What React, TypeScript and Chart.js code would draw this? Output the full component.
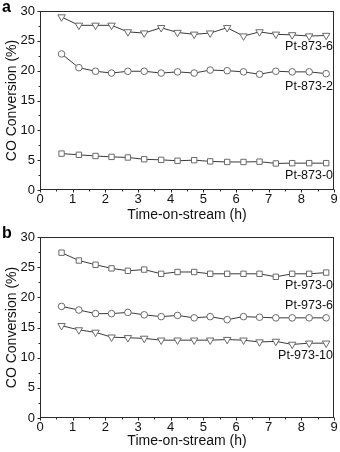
import React, { useEffect, useRef } from "react";
import { Chart, registerables } from "chart.js";

Chart.register(...registerables);

// Time-on-stream (h)
const timeA = [0.66, 1.19, 1.7, 2.19, 2.69, 3.19, 3.71, 4.21, 4.72, 5.21, 5.73, 6.23, 6.72, 7.22, 7.72, 8.24, 8.76];
const timeB = [0.66, 1.19, 1.7, 2.19, 2.69, 3.19, 3.71, 4.21, 4.72, 5.21, 5.73, 6.23, 6.72, 7.22, 7.72, 8.24, 8.76];

// Panel a
const pt873_6 = [29.0, 27.6, 27.6, 27.6, 26.5, 26.3, 27.2, 26.4, 26.1, 26.3, 27.2, 25.8, 26.5, 26.1, 26.0, 25.8, 25.9];
const pt873_2 = [22.8, 20.5, 19.9, 19.6, 19.9, 19.9, 19.6, 19.8, 19.6, 20.1, 20.0, 19.8, 19.4, 19.9, 19.8, 19.8, 19.5];
const pt873_0 = [6.1, 5.9, 5.7, 5.55, 5.45, 5.15, 5.05, 4.9, 5.0, 4.8, 4.7, 4.7, 4.75, 4.45, 4.5, 4.5, 4.5];

// Panel b
const pt973_0 = [27.4, 26.1, 25.4, 24.8, 24.4, 24.6, 23.9, 24.2, 24.2, 23.9, 23.9, 23.9, 23.9, 23.4, 23.9, 23.9, 24.1];
const pt973_6 = [18.5, 17.9, 17.3, 17.3, 17.5, 17.1, 16.8, 17.0, 16.6, 16.8, 16.3, 16.8, 16.7, 16.6, 16.6, 16.6, 16.6];
const pt973_10 = [15.3, 14.6, 14.2, 13.4, 13.3, 13.2, 12.9, 12.9, 12.9, 12.9, 13.0, 12.9, 12.6, 12.7, 12.2, 12.4, 12.4];

// Series labels and their value positions (x, y)
const labelsA = ["Pt-873-6", "Pt-873-2", "Pt-873-0"];
const labelYA = [24.0, 17.4, 2.4];
const labelsB = ["Pt-973-0", "Pt-973-6", "Pt-973-10"];
const labelYB = [21.9, 18.7, 10.4];
const labelX = 8.97;

const yTicks = [0, 5, 10, 15, 20, 25, 30];
const xTicks = [0, 1, 2, 3, 4, 5, 6, 7, 8, 9];

const FONT = "'Liberation Sans', Arial, sans-serif";
const LINE = "#3a3a3a";
const MARK = "#6a6a6a";

type Series = { data: number[]; x: number[]; style: string };

function makeDataset(s: Series) {
  const base: any = {
    data: s.data.map((v, i) => ({ x: s.x[i], y: v })),
    borderColor: LINE,
    borderWidth: 1,
    pointBackgroundColor: "#ffffff",
    pointBorderColor: MARK,
    pointBorderWidth: 1,
    tension: 0,
  };
  if (s.style === "tri") {
    base.pointStyle = "triangle";
    base.pointRotation = 180;
    base.pointRadius = 4.3;
  } else if (s.style === "circ") {
    base.pointStyle = "circle";
    base.pointRadius = 3.3;
  } else {
    base.pointStyle = "rect";
    base.pointRadius = 3.8;
  }
  return base;
}

function Panel(props: { series: Series[]; labels: string[]; labelY: number[]; letter: string; axisH: number }) {
  const ref = useRef<HTMLCanvasElement>(null);
  useEffect(() => {
    const canvas = ref.current!;
    const framePlugin = {
      id: "frame",
      afterDraw(chart: any) {
        const ctx = chart.ctx;
        const a = chart.chartArea;
        const xs = chart.scales.x;
        const ys = chart.scales.y;
        ctx.save();
        ctx.strokeStyle = "#2a2a2a";
        ctx.lineWidth = 1;
        const L = Math.round(a.left) + 0.5;
        const R = Math.round(a.right) - 0.5;
        const T = Math.round(a.top) + 0.5;
        const B = Math.round(a.bottom) - 0.5;
        ctx.strokeRect(L, T, R - L, B - T);
        ctx.beginPath();
        for (let v = 0; v <= 30.001; v += 2.5) {
          const y = Math.round(ys.getPixelForValue(v)) + 0.5;
          const len = Math.abs(v % 5) < 0.01 ? 3 : 2;
          ctx.moveTo(L - len, y);
          ctx.lineTo(L, y);
        }
        for (let v = 0; v <= 9.001; v += 0.5) {
          const x = Math.round(xs.getPixelForValue(v)) + 0.5;
          const len = Math.abs(v % 1) < 0.01 ? 3 : 2;
          ctx.moveTo(x, B);
          ctx.lineTo(x, B + len);
        }
        ctx.stroke();
        // series labels
        ctx.fillStyle = "#111";
        ctx.font = `12.5px ${FONT}`;
        ctx.textAlign = "right";
        ctx.textBaseline = "middle";
        props.labels.forEach((t, i) => {
          ctx.fillText(t, xs.getPixelForValue(labelX), ys.getPixelForValue(props.labelY[i]));
        });
        // panel letter
        ctx.font = `bold 16px ${FONT}`;
        ctx.textAlign = "left";
        ctx.fillStyle = "#000";
        ctx.fillText(props.letter, 2, 8);
        ctx.restore();
      },
    };
    const chart = new Chart(canvas, {
      type: "line",
      data: { datasets: props.series.map(makeDataset) },
      options: {
        animation: false,
        responsive: false,
        maintainAspectRatio: false,
        layout: { padding: { left: 0, right: 6, top: 11, bottom: 0 } },
        plugins: { legend: { display: false }, tooltip: { enabled: false } },
        scales: {
          x: {
            type: "linear",
            min: 0,
            max: 9,
            afterBuildTicks: (s: any) => {
              s.ticks = xTicks.map((v) => ({ value: v }));
            },
            afterFit: (s: any) => {
              s.height = props.axisH;
            },
            grid: { display: false, drawTicks: true, tickLength: 2 },
            border: { display: false },
            ticks: { color: "#111", font: { family: FONT, size: 13 }, padding: 0, maxRotation: 0, autoSkip: false },
            title: { display: true, text: "Time-on-stream (h)", color: "#111", font: { family: FONT, size: 14 }, padding: { top: 0, bottom: 2 } },
          },
          y: {
            type: "linear",
            min: 0,
            max: 30,
            afterBuildTicks: (s: any) => {
              s.ticks = yTicks.map((v) => ({ value: v }));
            },
            afterFit: (s: any) => {
              s.width = 40;
            },
            grid: { display: false, drawTicks: true, tickLength: 3 },
            border: { display: false },
            ticks: { color: "#111", font: { family: FONT, size: 13 }, padding: 2 },
            title: { display: true, text: "CO Conversion (%)", color: "#111", font: { family: FONT, size: 14 }, padding: { top: 4, bottom: 0 } },
          },
        },
      },
      plugins: [framePlugin],
    } as any);
    return () => chart.destroy();
  }, []);
  return <canvas ref={ref} width={340} height={226} style={{ display: "block", width: 340, height: 226 }} />;
}

export default function App() {
  return (
    <div style={{ position: "fixed", left: 0, top: 0, width: 340, height: 452, background: "#fff" }}>
      <Panel
        letter="a"
        axisH={36}
        labels={labelsA}
        labelY={labelYA}
        series={[
          { data: pt873_6, x: timeA, style: "tri" },
          { data: pt873_2, x: timeA, style: "circ" },
          { data: pt873_0, x: timeA, style: "rect" },
        ]}
      />
      <Panel
        letter="b"
        axisH={34}
        labels={labelsB}
        labelY={labelYB}
        series={[
          { data: pt973_0, x: timeB, style: "rect" },
          { data: pt973_6, x: timeB, style: "circ" },
          { data: pt973_10, x: timeB, style: "tri" },
        ]}
      />
    </div>
  );
}
